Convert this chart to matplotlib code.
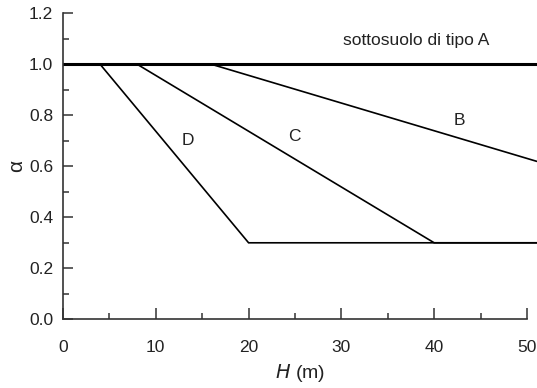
import numpy as np
import matplotlib.pyplot as plt
from matplotlib.ticker import MultipleLocator

# soil type curves: alpha vs H (m)
h_a = [0, 51]
alpha_a = [1.0, 1.0]
h_b = [0, 16, 51]
alpha_b = [1.0, 1.0, 0.62]
h_c = [0, 8, 40, 51]
alpha_c = [1.0, 1.0, 0.3, 0.3]
h_d = [0, 4, 20, 51]
alpha_d = [1.0, 1.0, 0.3, 0.3]

labels = ["sottosuolo di tipo A", "B", "C", "D"]
label_x = [38.1, 42.7, 24.9, 13.5]
label_y = [1.095, 0.78, 0.715, 0.70]

plt.rcParams["font.family"] = ["Liberation Sans", "DejaVu Sans"]
txt_color = "#222222"

fig = plt.figure(figsize=(5.37, 3.88), dpi=100)
ax = fig.add_axes([63 / 537, 68.7 / 388, 474 / 537, 306 / 388])

ax.plot(h_d, alpha_d, color="black", lw=1.2, solid_joinstyle="miter")
ax.plot(h_c, alpha_c, color="black", lw=1.2, solid_joinstyle="miter")
ax.plot(h_b, alpha_b, color="black", lw=1.2, solid_joinstyle="miter")
ax.plot(h_a, alpha_a, color="black", lw=2.2)

for t, x, y in zip(labels, label_x, label_y):
    ax.text(x, y, t, ha="center", va="center", fontsize=12.5, color=txt_color)

ax.set_xlim(0, 51.08)
ax.set_ylim(0, 1.2)
ax.spines["top"].set_visible(False)
ax.spines["right"].set_visible(False)
ax.spines["bottom"].set_bounds(0, 50)
ax.spines["left"].set_bounds(0, 1.2)
for s in ["bottom", "left"]:
    ax.spines[s].set_linewidth(1.2)
    ax.spines[s].set_color("#333333")

ax.set_xticks(np.arange(0, 51, 10))
ax.xaxis.set_minor_locator(MultipleLocator(5))
ax.set_yticks(np.arange(0, 1.21, 0.2))
ax.yaxis.set_minor_locator(MultipleLocator(0.1))
ax.set_yticklabels([f"{v:.1f}" for v in np.arange(0, 1.21, 0.2)])

ax.tick_params(axis="x", which="major", direction="in", length=8, width=1.1, pad=15,
               labelsize=12.5, labelcolor=txt_color, color="#333333")
ax.tick_params(axis="x", which="minor", direction="in", length=4, width=1.1, color="#333333")
ax.tick_params(axis="y", which="major", direction="in", length=7, width=1.1, pad=7,
               labelsize=12.5, labelcolor=txt_color, color="#333333")
ax.tick_params(axis="y", which="minor", direction="in", length=4, width=1.1, color="#333333")

ax.set_xlabel(r"$H$ (m)", fontsize=14, color=txt_color, labelpad=5)
ax.set_ylabel("α", fontsize=15, color=txt_color, labelpad=2)

fig.savefig("out.png", dpi=100)
